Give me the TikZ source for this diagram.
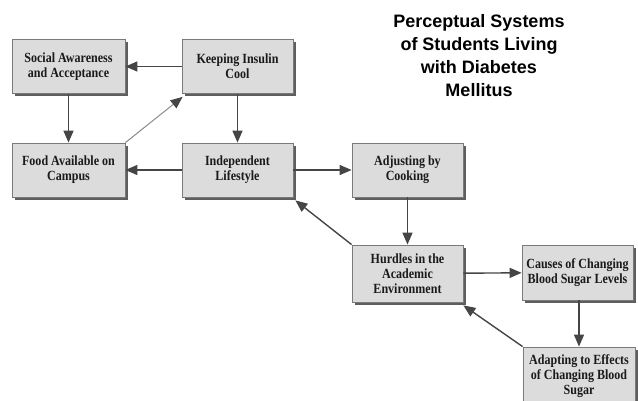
\documentclass[tikz,border=0pt]{standalone}
\usepackage{fontspec}
\setmainfont{Liberation Serif}
\newfontfamily\titlefont{Liberation Sans}
\newfontfamily\boxfont[FakeStretch=0.86]{Liberation Serif}
\usetikzlibrary{arrows.meta,shadows}
\definecolor{boxfill}{HTML}{DCDCDC}
\definecolor{boxline}{HTML}{7A7A7A}
\definecolor{shadowgray}{HTML}{5E5E5E}
\definecolor{arrowgray}{HTML}{454545}
\definecolor{thingray}{HTML}{8A8A8A}
\definecolor{inkgray}{HTML}{1A1A1A}
\tikzset{
  topic/.style={draw=boxline, line width=0.8pt, fill=boxfill, align=center,
    inner sep=2pt, minimum width=111pt, minimum height=54pt, text=inkgray,
    font=\boxfont\bfseries\fontsize{14}{15.2}\selectfont,
    drop shadow={shadow xshift=3pt, shadow yshift=-3pt, fill=shadowgray, opacity=1}},
  link/.style={draw=arrowgray, line width=1.4pt,
    -{Triangle[length=12pt,width=10pt]}},
  thinlink/.style={draw=thingray, line width=1pt,
    -{Triangle[length=12pt,width=10pt,fill=arrowgray,color=arrowgray]}}
}
\begin{document}
\begin{tikzpicture}[x=1pt,y=-1pt]
\useasboundingbox (0,0) rectangle (638,401);

\node[font=\titlefont\bfseries\fontsize{18}{23}\selectfont, align=center]
  (title) at (479,56) {Perceptual Systems\\of Students Living\\with Diabetes\\Mellitus};

\node[topic, minimum width=113pt] (social)  at (68.5,66.5) {Social Awareness\\and Acceptance};
\node[topic] (insulin) at (237.5,66.5) {Keeping Insulin\\Cool};
\node[topic, minimum width=113pt] (food)    at (68.5,170) {Food Available on\\Campus};
\node[topic] (indep)   at (237.5,170) {Independent\\Lifestyle};
\node[topic] (cook)    at (407.5,170) {Adjusting by\\Cooking};
\node[topic, minimum height=57pt] (hurdles) at (407.5,273.5) {Hurdles in the\\Academic\\Environment};
\node[topic, minimum height=55pt] (causes)  at (577.5,272.5) {Causes of Changing\\Blood Sugar Levels};
\node[topic, minimum width=112pt, minimum height=58pt] (adapt) at (579,376) {Adapting to Effects\\of Changing Blood\\Sugar};

\draw[link] (insulin) -- (social);
\draw[link] (social) -- (food);
\draw[thinlink] (food.north east) -- ([shift={(1pt,-3pt)}]insulin.south west);
\draw[link] (insulin) -- (indep);
\draw[link] (indep) -- (food);
\draw[link] (indep) -- (cook);
\draw[link] (cook) -- (hurdles);
\draw[link] (hurdles.north west) -- ([shift={(2pt,-3pt)}]indep.south east);
\draw[link] (hurdles) -- (causes);
\draw[link] (causes.south -| adapt.north) -- (adapt.north);
\draw[link] (adapt.north west) -- ([shift={(0pt,-3pt)}]hurdles.south east);
\end{tikzpicture}
\end{document}
